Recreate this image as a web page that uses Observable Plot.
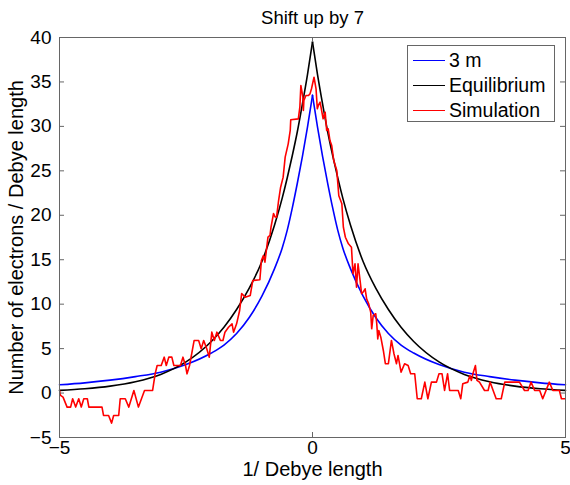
<!DOCTYPE html>
<html><head><meta charset="utf-8">
<script src="https://cdn.jsdelivr.net/npm/d3@7"></script>
<script src="https://cdn.jsdelivr.net/npm/@observablehq/plot@0.6"></script>
<style>
body{margin:0;background:#fff;}
#wrap{position:relative;width:570px;height:485px;font-family:"Liberation Sans",Arial,sans-serif;}
#legend{position:absolute;left:407px;top:45px;width:148px;height:77px;border:1px solid #666;background:#fff;box-sizing:border-box;}
.row{position:absolute;left:0;height:22px;display:flex;align-items:center;font-size:19.5px;color:#000;}
.sw{width:32px;height:0;border-top:1.5px solid;margin-left:5px;margin-right:4px;}
</style></head>
<body><div id="wrap"></div>
<script>
const titleText = "Shift up by 7";
const xLabel = "1/ Debye length";
const yLabel = "Number of electrons / Debye length";
const xTicks = [-5, 0, 5];
const yTicks = [-5, 0, 5, 10, 15, 20, 25, 30, 35, 40];
const seriesNames = ["3 m", "Equilibrium", "Simulation"];
const seriesColors = ["#0000ff", "#000000", "#ff0000"];

const curveX = [-5,-4.5,-4,-3.5,-3,-2.5,-2,-1.75,-1.5,-1.25,-1,-0.75,-0.6,-0.5,-0.4,-0.3,-0.2,-0.1,0,0.1,0.2,0.3,0.4,0.5,0.6,0.75,1,1.25,1.5,1.75,2,2.5,3,3.5,4,4.5,5];
const blueY = [0.93,1.15,1.45,1.85,2.35,3.2,4.5,5.4,6.7,8.5,10.9,14.0,16.3,18.3,20.8,23.6,26.6,29.9,33.5,29.9,26.6,23.6,20.8,18.3,16.3,14.0,10.9,8.5,6.7,5.4,4.5,3.2,2.35,1.85,1.45,1.15,0.93];
const blackY = [0.3,0.48,0.78,1.28,2.1,3.5,5.8,7.4,9.4,11.8,14.8,18.9,21.9,24.2,26.7,29.4,32.5,35.8,39.5,35.8,32.5,29.4,26.7,24.2,21.9,18.9,14.8,11.8,9.4,7.4,5.8,3.5,2.1,1.28,0.78,0.48,0.3];

const simulation = [
[-5.00,0.29],[-4.98,-0.27],[-4.93,-0.46],[-4.85,-1.58],[-4.78,-1.58],[-4.74,-0.64],[-4.68,-1.58],[-4.62,-0.64],[-4.57,-1.58],[-4.52,-0.64],
[-4.45,-0.64],[-4.42,-1.58],[-4.16,-1.58],[-4.13,-2.52],[-4.03,-2.52],[-3.97,-3.38],[-3.93,-2.52],[-3.83,-2.52],[-3.80,-0.64],[-3.70,-0.64],
[-3.63,-1.58],[-3.53,0.29],[-3.44,-1.58],[-3.32,0.29],[-3.16,0.29],[-3.11,2.16],[-3.07,3.10],[-2.99,3.10],[-2.93,4.04],[-2.89,3.10],
[-2.84,4.04],[-2.78,4.04],[-2.74,3.10],[-2.61,3.10],[-2.56,4.04],[-2.51,3.10],[-2.48,2.16],[-2.43,3.10],[-2.34,5.91],[-2.25,5.91],
[-2.20,4.98],[-2.15,5.91],[-2.09,4.98],[-2.04,4.04],[-1.99,6.85],[-1.94,5.91],[-1.89,6.85],[-1.82,5.91],[-1.77,5.91],[-1.73,6.85],
[-1.66,7.40],[-1.59,7.79],[-1.56,6.85],[-1.50,7.79],[-1.44,9.29],[-1.40,11.2],[-1.33,10.79],[-1.23,10.98],[-1.18,12.67],[-1.04,12.74],
[-1.01,14.9],[-0.97,15.48],[-0.94,14.73],[-0.88,17.54],[-0.84,17.73],[-0.82,18.66],[-0.77,20.2],[-0.74,19.8],[-0.71,19.79],[-0.67,21.66],
[-0.63,23.16],[-0.58,24.29],[-0.54,26.54],[-0.48,28.04],[-0.44,29.54],[-0.43,30.74],[-0.28,30.85],[-0.25,32.16],[-0.23,34.6],[-0.19,33.28],
[-0.18,31.79],[-0.17,32.91],[-0.13,33.48],[-0.08,33.48],[-0.05,33.66],[-0.02,34.23],[0.03,35.53],[0.07,34.23],[0.095,31.98],[0.115,32.35],
[0.15,32.72],[0.18,31.79],[0.21,30.85],[0.25,31.6],[0.28,29.54],[0.31,29.73],[0.345,28.41],[0.38,27.85],[0.42,26.16],[0.48,25.04],
[0.52,22.2],[0.58,21.29],[0.61,18.66],[0.65,17.53],[0.71,16.79],[0.77,16.41],[0.80,13.42],[0.84,14.54],[0.87,11.91],[0.90,14.54],
[0.94,12.67],[0.97,11.17],[1.01,11.43],[1.04,11.73],[1.07,10.6],[1.11,10.04],[1.15,9.1],[1.17,7.23],[1.20,8.73],[1.25,8.92],
[1.27,7.8],[1.29,6.1],[1.31,7.04],[1.35,6.29],[1.40,4.79],[1.44,3.3],[1.50,3.3],[1.56,5.92],[1.61,4.42],[1.66,3.3],
[1.69,4.23],[1.75,2.35],[1.82,3.3],[1.89,3.1],[1.94,2.17],[2.02,2.17],[2.07,-0.64],[2.15,-0.64],[2.22,1.23],[2.28,-0.64],
[2.35,1.23],[2.45,1.23],[2.50,2.17],[2.56,2.17],[2.61,0.29],[2.67,2.17],[2.71,0.29],[2.88,0.29],[2.93,-0.64],[2.97,1.05],
[3.07,1.23],[3.11,1.98],[3.14,1.42],[3.17,2.17],[3.22,3.1],[3.25,1.42],[3.30,1.23],[3.40,0.29],[3.47,0.29],[3.51,1.23],
[3.57,0.29],[3.63,-0.64],[3.73,-0.64],[3.80,1.23],[4.09,1.23],[4.19,0.29],[4.26,0.29],[4.32,1.23],[4.39,0.29],[4.49,0.29],
[4.55,-0.64],[4.68,1.23],[4.75,0.29],[4.88,0.29],[4.92,-0.64],[5.00,-0.64]
];

// smooth model curves, split at the cusp so the peak stays sharp
const smooth = [];
[[blueY, seriesNames[0]], [blackY, seriesNames[1]]].forEach(([ys, name]) => {
  curveX.forEach((x, i) => {
    if (x <= 0) smooth.push({x, y: ys[i], series: name, key: name + "-L"});
    if (x >= 0) smooth.push({x, y: ys[i], series: name, key: name + "-R"});
  });
});
const sim = simulation.map(([x, y]) => ({x, y}));

const W = 570, H = 485, mL = 59, mR = 5, mT = 37, mB = 48;
const pw = W - mL - mR, ph = H - mT - mB, tk = 5;
const axisColor = "#666";

const chart = Plot.plot({
  width: W, height: H,
  marginLeft: mL, marginRight: mR, marginTop: mT, marginBottom: mB,
  style: {fontFamily: "'Liberation Sans', Arial, sans-serif", fontSize: "19px", background: "white", color: "black", overflow: "visible"},
  x: {domain: [-5, 5]},
  y: {domain: [-5, 40]},
  marks: [
    Plot.line(smooth.filter(d => d.series === seriesNames[0]), {x: "x", y: "y", z: "key", stroke: seriesColors[0], strokeWidth: 1.6, curve: "monotone-x"}),
    Plot.line(smooth.filter(d => d.series === seriesNames[1]), {x: "x", y: "y", z: "key", stroke: seriesColors[1], strokeWidth: 1.6, curve: "monotone-x"}),
    Plot.line(sim, {x: "x", y: "y", stroke: seriesColors[2], strokeWidth: 1.6, clip: true}),
    Plot.frame({stroke: axisColor}),
    // inward ticks (box on all sides)
    Plot.tickX(xTicks, {x: d => d, stroke: axisColor, insetTop: ph - tk}),
    Plot.tickX(xTicks, {x: d => d, stroke: axisColor, insetBottom: ph - tk}),
    Plot.tickY(yTicks, {y: d => d, stroke: axisColor, insetRight: pw - tk}),
    Plot.tickY(yTicks, {y: d => d, stroke: axisColor, insetLeft: pw - tk}),
    Plot.axisX(xTicks, {anchor: "bottom", tickSize: 0, tickPadding: 3, label: null, fill: "black", fontSize: 19}),
    Plot.axisY(yTicks, {anchor: "left", tickSize: 0, tickPadding: 8, label: null, fill: "black", fontSize: 19}),
    Plot.text([titleText], {frameAnchor: "top", dy: -27, fontSize: 18.5, fill: "black"}),
    Plot.text([xLabel], {frameAnchor: "bottom", dy: 38, fontSize: 20, fill: "black"}),
    Plot.text([yLabel], {frameAnchor: "left", dx: -43, rotate: -90, textAnchor: "middle", fontSize: 20, fill: "black"})
  ]
});

const wrap = document.getElementById("wrap");
wrap.appendChild(chart);
const legend = document.createElement("div");
legend.id = "legend";
seriesNames.forEach((name, i) => {
  const row = document.createElement("div");
  row.className = "row";
  row.style.top = (3 + i * 25) + "px";
  const sw = document.createElement("span");
  sw.className = "sw";
  sw.style.borderTopColor = seriesColors[i];
  const t = document.createElement("span");
  t.textContent = name;
  row.appendChild(sw); row.appendChild(t);
  legend.appendChild(row);
});
wrap.appendChild(legend);
</script>
</body></html>
